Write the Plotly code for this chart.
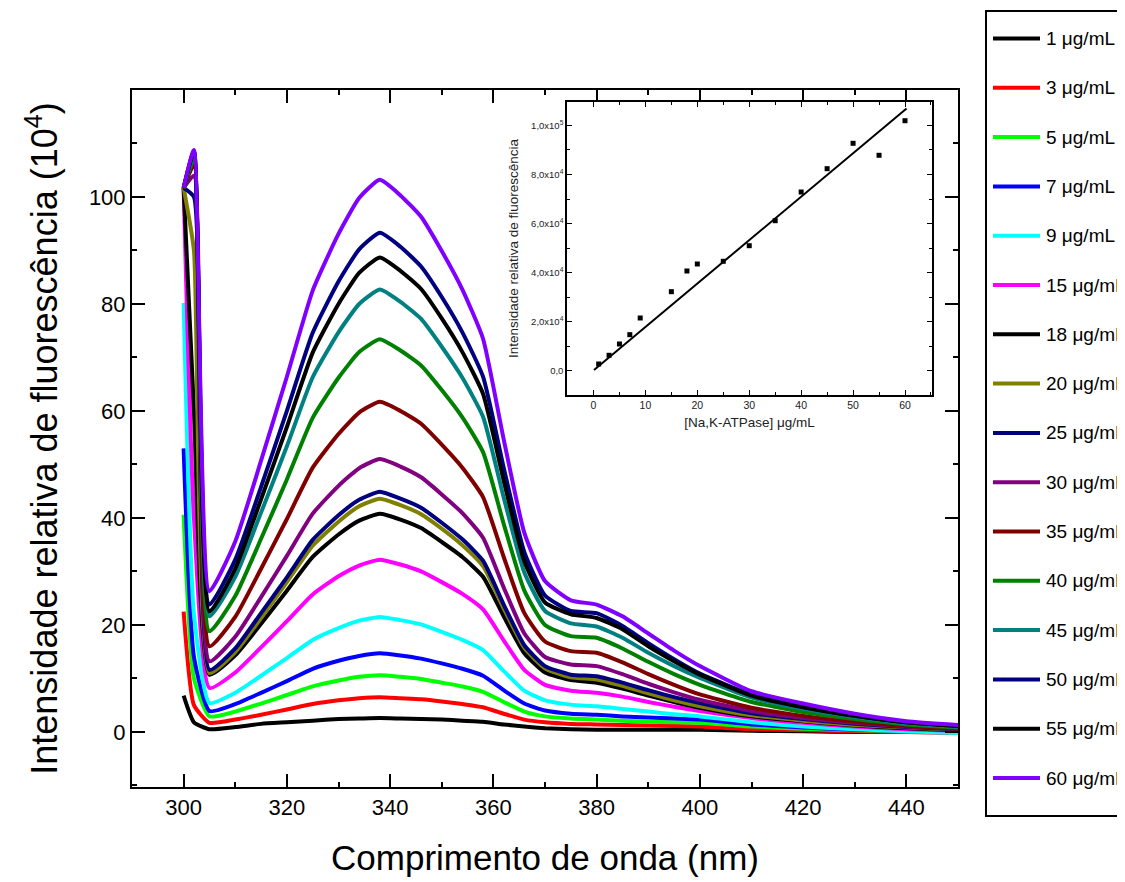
import plotly.graph_objects as go

wavelength = [300, 302, 305, 310, 315, 320, 325, 330, 334, 338, 342, 346, 350, 354, 358,
              362, 366, 370, 375, 380, 385, 390, 395, 400, 410, 420, 430, 440, 450]

labels = ["1 μg/mL", "3 μg/mL", "5 μg/mL", "7 μg/mL", "9 μg/mL", "15 μg/mL", "18 μg/mL",
          "20 μg/mL", "25 μg/mL", "30 μg/mL", "35 μg/mL", "40 μg/mL", "45 μg/mL",
          "50 μg/mL", "55 μg/mL", "60 μg/mL"]

s1 = [6.8, 1.8, 0.5, 0.9, 1.5, 1.8, 2.1, 2.4, 2.5, 2.6, 2.5, 2.4, 2.3, 2.1, 1.9, 1.4, 1.0, 0.7,
      0.5, 0.4, 0.4, 0.4, 0.4, 0.4, 0.2, 0.1, 0.0, 0.0, -0.1]
s3 = [22.5, 5.0, 1.7, 2.3, 3.2, 4.2, 5.2, 5.9, 6.3, 6.5, 6.3, 6.1, 5.7, 5.2, 4.6, 3.4, 2.3, 1.8,
      1.5, 1.4, 1.3, 1.2, 1.1, 1.0, 0.5, 0.3, 0.1, 0.0, -0.1]
s5 = [40.6, 10.0, 2.9, 3.8, 5.3, 6.9, 8.5, 9.6, 10.3, 10.6, 10.3, 9.9, 9.2, 8.5, 7.5, 5.6, 3.8,
      2.9, 2.5, 2.3, 2.1, 1.9, 1.8, 1.7, 1.0, 0.6, 0.3, 0.1, 0.0]
s7 = [53.0, 14.0, 3.9, 5.2, 7.3, 9.5, 11.8, 13.3, 14.2, 14.7, 14.3, 13.7, 12.8, 11.8, 10.5, 7.8,
      5.3, 4.0, 3.4, 3.2, 2.9, 2.7, 2.5, 2.3, 1.4, 0.8, 0.4, 0.2, 0.0]
s9 = [80.2, 22.0, 5.4, 7.3, 10.5, 13.8, 17.2, 19.4, 20.8, 21.5, 20.9, 20.1, 18.7, 17.2, 15.3,
      11.4, 7.7, 5.9, 5.1, 4.8, 4.3, 3.8, 3.3, 2.9, 1.8, 1.0, 0.5, 0.1, -0.2]
s15 = [101.7, 40.0, 8.2, 11.1, 15.8, 20.7, 25.7, 29.1, 31.1, 32.2, 31.3, 30.0, 28.0, 25.8, 22.9,
       17.1, 11.6, 8.8, 7.7, 7.3, 6.6, 5.6, 4.7, 3.9, 2.6, 1.7, 1.0, 0.5, 0.2]
s18 = [101.7, 60.0, 10.7, 14.3, 20.2, 26.4, 32.7, 36.9, 39.5, 40.8, 39.7, 38.1, 35.5, 32.7, 29.0,
       21.6, 14.7, 11.1, 9.7, 9.2, 8.1, 6.8, 5.6, 4.5, 2.9, 2.0, 1.2, 0.7, 0.3]
s20 = [101.7, 90.0, 11.0, 14.9, 21.3, 28.0, 34.8, 39.3, 42.2, 43.6, 42.4, 40.7, 38.0, 34.9, 31.0,
       23.1, 15.7, 11.9, 10.2, 9.8, 8.6, 7.2, 5.9, 4.8, 3.1, 2.1, 1.3, 0.8, 0.4]
s25 = [101.7, 100.0, 11.6, 15.6, 22.2, 28.9, 35.9, 40.5, 43.4, 44.9, 43.6, 41.9, 39.1, 36.0,
       32.0, 23.8, 16.2, 12.3, 10.7, 10.4, 9.2, 7.8, 6.5, 5.4, 3.5, 2.4, 1.5, 0.9, 0.5]
s30 = [101.7, 104.0, 13.2, 17.8, 25.2, 32.9, 40.8, 46.0, 49.3, 51.0, 49.6, 47.6, 44.4, 40.9,
       36.3, 27.0, 18.4, 14.0, 12.6, 12.3, 10.8, 9.0, 7.4, 6.0, 3.9, 2.6, 1.7, 1.0, 0.6]
s35 = [101.7, 106.0, 16.0, 21.5, 30.5, 39.8, 49.4, 55.7, 59.7, 61.7, 60.0, 57.6, 53.7, 49.4,
       43.9, 32.7, 22.2, 16.9, 15.1, 14.8, 13.0, 10.8, 8.8, 7.0, 4.5, 3.0, 1.9, 1.1, 0.6]
s40 = [101.7, 107.0, 18.8, 25.4, 36.1, 47.2, 58.7, 66.2, 71.0, 73.4, 71.3, 68.5, 63.9, 58.8,
       52.3, 38.9, 26.4, 20.0, 17.9, 17.6, 15.6, 13.1, 10.8, 8.8, 5.6, 3.7, 2.4, 1.4, 0.8]
s45 = [101.7, 108.0, 21.6, 29.0, 41.0, 53.4, 66.3, 74.7, 80.0, 82.7, 80.4, 77.2, 72.0, 66.2,
       58.9, 43.8, 29.8, 22.6, 20.3, 19.7, 17.6, 14.8, 12.3, 10.1, 6.4, 4.3, 2.8, 1.6, 0.9]
s50 = [101.7, 108.5, 23.8, 32.2, 45.8, 60.0, 74.6, 84.2, 90.2, 93.3, 90.7, 87.0, 81.3, 74.7,
       66.4, 49.4, 33.6, 25.5, 22.6, 22.2, 19.8, 16.6, 13.6, 10.9, 7.0, 4.7, 3.0, 1.8, 1.1]
s55 = [101.7, 108.5, 22.5, 30.5, 43.5, 57.0, 70.9, 80.0, 85.8, 88.7, 86.2, 82.8, 77.3, 71.0,
       63.2, 47.0, 31.9, 24.2, 22.0, 21.3, 19.2, 16.0, 13.2, 10.7, 6.8, 4.6, 3.0, 1.8, 1.1]
s60 = [101.7, 108.8, 26.3, 35.6, 50.7, 66.4, 82.5, 93.1, 99.8, 103.2, 100.3, 96.3, 89.9, 82.7,
       73.5, 54.7, 37.2, 28.2, 24.6, 23.8, 21.6, 18.4, 15.2, 12.3, 7.6, 5.3, 3.4, 2.0, 1.3]

series = [s1, s3, s5, s7, s9, s15, s18, s20, s25, s30, s35, s40, s45, s50, s55, s60]

colors = ["#000000", "#FF0000", "#00FF00", "#0000FF", "#00FFFF", "#FF00FF", "#000000",
          "#808000", "#000080", "#800080", "#800000", "#008000", "#008080", "#000080",
          "#000000", "#8000FF"]

# Inset data
inset_conc = [1, 3, 5, 7, 9, 15, 18, 20, 25, 30, 35, 40, 45, 50, 55, 60]
inset_int = [2850, 6390, 10990, 14780, 21570, 32280, 40700, 43550, 44650, 51000, 61170,
             72850, 82340, 92670, 87790, 101870]
fit_x = [0.1, 60.3]
fit_slope = 1769.0
fit_intercept = 195.0
fit_y = [fit_intercept + fit_slope * v for v in fit_x]

inset_yticks = [0, 20000, 40000, 60000, 80000, 100000]
inset_yticktext = ["0,0", "2,0x10<sup>4</sup>", "4,0x10<sup>4</sup>", "6,0x10<sup>4</sup>",
                   "8,0x10<sup>4</sup>", "1,0x10<sup>5</sup>"]

FONT = "Arial, Liberation Sans, sans-serif"

# Page has an 8 px body margin: figure coordinates = reference pixels - 8
OFF = 8
W, H = 1125 - OFF, 882 - OFF
ML, MT, PW, PH = 132 - OFF, 90 - OFF, 826, 697
MR, MB = W - ML - PW, H - MT - PH


def px_x(rx):
    return (rx - OFF - ML) / PW


def px_y(ry):
    return (MT + PH - (ry - OFF)) / PH


fig = go.Figure()
for lab, ys, col in zip(labels, series, colors):
    fig.add_trace(go.Scatter(x=wavelength, y=ys, mode="lines", name=lab,
                             line=dict(color=col, width=4, shape="spline", smoothing=0.5),
                             showlegend=False, xaxis="x", yaxis="y"))

fig.add_trace(go.Scatter(x=inset_conc, y=inset_int, mode="markers",
                         marker=dict(symbol="square", size=5, color="black"),
                         showlegend=False, xaxis="x2", yaxis="y2"))
fig.add_trace(go.Scatter(x=fit_x, y=fit_y, mode="lines", line=dict(color="black", width=2),
                         showlegend=False, xaxis="x2", yaxis="y2"))

axis_common = dict(showline=True, linecolor="black", linewidth=2, mirror="ticks",
                   ticks="inside", tickcolor="black", tickwidth=2, ticklen=13,
                   showgrid=False, zeroline=False)

# Manual legend (box, line samples and labels), in reference pixel positions
shapes = [dict(type="rect", xref="paper", yref="paper",
               x0=px_x(986), x1=px_x(1160), y0=px_y(816), y1=px_y(11),
               line=dict(color="black", width=2), fillcolor="white", layer="below")]
annotations = []
for i, (lab, col) in enumerate(zip(labels, colors)):
    ry = 38.5 + 49.3 * i
    shapes.append(dict(type="line", xref="paper", yref="paper",
                       x0=px_x(993), x1=px_x(1040), y0=px_y(ry), y1=px_y(ry),
                       line=dict(color=col, width=4)))
    annotations.append(dict(xref="paper", yref="paper", x=px_x(1044), y=px_y(ry),
                            text=lab, showarrow=False, xanchor="left", yanchor="middle",
                            font=dict(size=19, family=FONT, color="black")))

fig.update_layout(
    width=W, height=H,
    margin=dict(l=ML, r=MR, t=MT, b=MB),
    plot_bgcolor="white", paper_bgcolor="white",
    font=dict(family=FONT, color="black"),
    showlegend=False,
    shapes=shapes,
    annotations=annotations,
    xaxis=dict(domain=[0, 1], range=[290, 450], tickvals=[300, 320, 340, 360, 380, 400, 420, 440],
               minor=dict(ticks="inside", ticklen=5, tickwidth=2, dtick=10, tick0=290,
                          tickcolor="black"),
               tickfont=dict(size=22),
               title=dict(text="Comprimento de onda (nm)", font=dict(size=35), standoff=26),
               **axis_common),
    yaxis=dict(domain=[0, 1], range=[-10.3, 120], tickvals=[0, 20, 40, 60, 80, 100],
               minor=dict(ticks="inside", ticklen=5, tickwidth=2, dtick=10, tick0=-10,
                          tickcolor="black"),
               tickfont=dict(size=22),
               title=dict(text="Intensidade relativa de fluorescência (10<sup>4</sup>)",
                          font=dict(size=36), standoff=20),
               **axis_common),
    xaxis2=dict(domain=[px_x(567), px_x(932)], anchor="y2", range=[-5.1, 65.2],
                tickvals=[0, 10, 20, 30, 40, 50, 60],
                minor=dict(ticks="inside", ticklen=3, dtick=5, tick0=0, tickcolor="black"),
                showline=True, linecolor="black", linewidth=1.5, mirror="ticks",
                ticks="inside", ticklen=5, tickcolor="black", showgrid=False, zeroline=False,
                tickfont=dict(size=10.5, color="#222"),
                title=dict(text="[Na,K-ATPase] μg/mL", font=dict(size=13.5, color="#222"),
                           standoff=7)),
    yaxis2=dict(domain=[px_y(395), px_y(102)], anchor="x2", range=[-9770, 109480],
                tickvals=inset_yticks, ticktext=inset_yticktext,
                minor=dict(ticks="inside", ticklen=3, dtick=10000, tick0=0, tickcolor="black"),
                showline=True, linecolor="black", linewidth=1.5, mirror="ticks",
                ticks="inside", ticklen=5, tickcolor="black", showgrid=False, zeroline=False,
                tickfont=dict(size=9.5, color="#222"),
                title=dict(text="Intensidade relativa de fluorescência",
                           font=dict(size=13.5, color="#222"), standoff=9)),
)

fig.write_html("out.html", config={"displayModeBar": False})
